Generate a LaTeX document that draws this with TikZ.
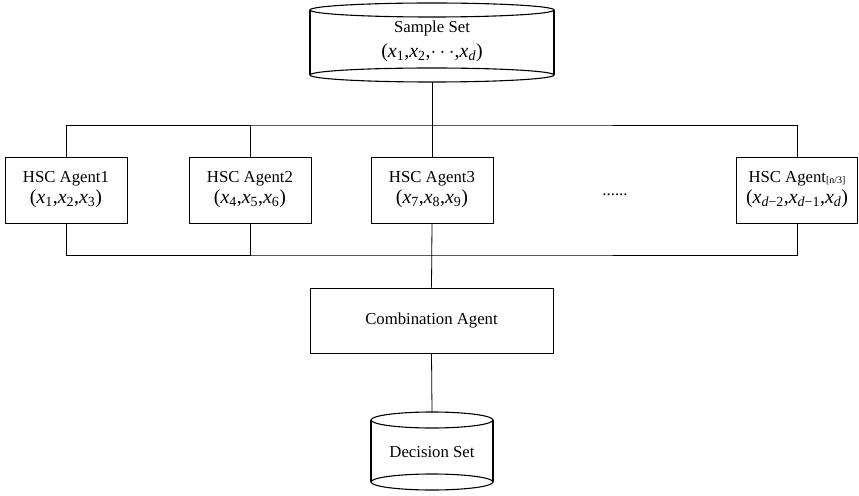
\documentclass[tikz,border=0pt]{standalone}
\usepackage{fontspec}
\setmainfont{Liberation Serif}
\newcommand\dfont{\fontsize{16.8}{21}\selectfont}
\newcommand\mfont{\fontsize{20}{21}\selectfont}
\newcommand\vx[1]{\textit{x}\textsubscript{#1}}
\begin{document}
\begin{tikzpicture}[x=1bp,y=-1bp,
  wire/.style={line width=0.8bp},
  cyl/.style={line width=1.1bp},
  agentbox/.style={draw, line width=0.9bp, rectangle, minimum width=122bp,
    minimum height=66bp, align=center, inner sep=0pt, font=\dfont},
  plain/.style={inner sep=0pt, align=center, font=\dfont}]
\useasboundingbox (0,0) rectangle (859,496);

% sample set cylinder
\draw[cyl] (310,10) -- (310,75) (554,10) -- (554,75);
\draw[cyl, fill=white] (432,10) ellipse [x radius=122bp, y radius=7bp];
\draw[cyl] (432,75) ellipse [x radius=122bp, y radius=7bp];
\node[plain] (ss) at (432,41)
  {Sample Set\\[4pt]{\mfont(\vx{1},\vx{2},$\cdots$,\vx{\textit{d}})}};
\coordinate (ssbot) at (432,82);

% agents
\node[agentbox] (a1) at (66,190) {HSC Agent1\\{\mfont(\vx{1},\vx{2},\vx{3})}};
\node[agentbox] (a2) at (250,190) {HSC Agent2\\{\mfont(\vx{4},\vx{5},\vx{6})}};
\node[agentbox] (a3) at (432,190) {HSC Agent3\\{\mfont(\vx{7},\vx{8},\vx{9})}};
\node[plain] (dots) at (615,195) {......};
\node[agentbox, minimum width=121bp] (an) at (797,190)
  {HSC Agent\raisebox{-1pt}{\fontsize{10}{10}\selectfont[n/3]}\\{\mfont(\vx{\textit{d}−2},\vx{\textit{d}−1},\vx{\textit{d}})}};

% combination agent
\node[agentbox, minimum width=243bp, minimum height=65bp] (comb) at (431.5,320.5) {Combination Agent};

% decision set cylinder
\draw[cyl] (371,420) -- (371,482) (493,420) -- (493,482);
\draw[cyl] (432,420) ellipse [x radius=61bp, y radius=8bp];
\draw[cyl] (432,482) ellipse [x radius=61bp, y radius=8bp];
\node[plain] (ds) at (432,452) {Decision Set};
\coordinate (dstop) at (432,412);

% buses
\coordinate (tb) at (432,125);
\coordinate (bb) at (432,255);
\draw[wire] (a1.north) |- (tb) -| (an.north);
\draw[wire] (a2.north) -- (a2.north |- tb);
\draw[wire] (a1.south) |- (bb) -| (an.south);
\draw[wire] (a2.south) -- (a2.south |- bb);
\draw[wire] (ssbot) -- (a3.north);
\draw[wire] (a3.south) -- (comb.north);
\draw[wire] (comb.south) -- (dstop);
\end{tikzpicture}
\end{document}
